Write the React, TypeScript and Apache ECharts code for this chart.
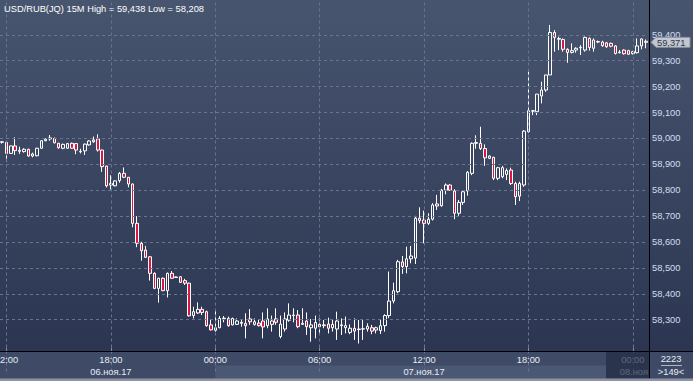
import React, { useEffect, useRef } from "react";
import * as echarts from "echarts";

// index of first candle relative to 00:00 on 07.11 (15-minute bars)
const START_INDEX = -49;
const SYMBOL = "USD/RUB(JQ) 15M";
const TOTAL_BARS = "2223";

const opens = [
  58985, 58985, 58942, 58971, 58950, 58949, 58958, 58932, 58933, 58962,
  58991, 59002, 59000, 58981, 58962, 58962, 58981, 58980, 58950, 58952,
  58975, 58994, 58998, 58955, 58893, 58820, 58817, 58837, 58865, 58850,
  58824, 58672, 58595, 58569, 58543, 58479, 58421, 58460, 58412, 58479,
  58463, 58466, 58451, 58441, 58316, 58326, 58340, 58331, 58280,
  58259, 58269, 58304, 58305, 58280, 58282, 58290, 58286, 58303, 58282,
  58287, 58295, 58277, 58282, 58303, 58235, 58264, 58298, 58318, 58318,
  58286, 58295, 58269, 58267, 58282, 58280, 58283, 58269, 58264, 58280,
  58269, 58251, 58267, 58264, 58264, 58264, 58269, 58260, 58258, 58277,
  58316, 58372, 58408, 58523, 58505, 58535, 58538, 58692, 58685, 58672,
  58688, 58747, 58740, 58800, 58820, 58797, 58711, 58753, 58797, 58865,
  58981, 58981, 58961, 58923, 58927, 58846, 58852, 58861, 58878, 58826,
  58777, 58820, 59026, 59105, 59103, 59164, 59187, 59245, 59409, 59386,
  59382, 59344, 59332, 59341, 59350, 59341, 59386, 59348, 59372, 59372,
  59369, 59367, 59357, 59333, 59341, 59339, 59327, 59331, 59357, 59375,
];
const closes = [
  58987, 58942, 58971, 58953, 58954, 58958, 58932, 58940, 58962, 58991,
  58997, 58998, 58983, 58964, 58977, 58980, 58962, 58955, 58948, 58978,
  58990, 58987, 58955, 58891, 58817, 58826, 58836, 58865, 58850, 58824,
  58672, 58595, 58566, 58541, 58479, 58421, 58460, 58412, 58479, 58460,
  58465, 58444, 58441, 58315, 58331, 58340, 58328, 58277, 58261,
  58269, 58305, 58306, 58277, 58305, 58295, 58286, 58277, 58292, 58292,
  58277, 58272, 58303, 58295, 58290, 58283, 58303, 58318, 58316, 58273,
  58282, 58273, 58280, 58289, 58273, 58277, 58267, 58282, 58295, 58277,
  58277, 58267, 58256, 58262, 58265, 58274, 58256, 58269, 58277, 58316,
  58372, 58412, 58524, 58505, 58535, 58546, 58692, 58683, 58672, 58688,
  58743, 58739, 58800, 58820, 58800, 58711, 58753, 58794, 58869, 58981,
  58984, 58961, 58925, 58932, 58846, 58887, 58887, 58876, 58826, 58775,
  58826, 59028, 59107, 59107, 59171, 59187, 59245, 59409, 59390, 59383,
  59344, 59332, 59339, 59348, 59352, 59390, 59351, 59380, 59374, 59358,
  59354, 59356, 59328, 59331, 59327, 59325, 59335, 59357, 59384, 59371,
];
const lows = [
  58980, 58910, 58940, 58936, 58940, 58945, 58930, 58927, 58931, 58960,
  58989, 58991, 58981, 58960, 58958, 58960, 58960, 58939, 58942, 58936,
  58972, 58983, 58949, 58871, 58811, 58803, 58815, 58829, 58848, 58811,
  58657, 58580, 58528, 58538, 58451, 58418, 58366, 58410, 58386, 58458,
  58461, 58442, 58434, 58312, 58305, 58322, 58318, 58273, 58258,
  58254, 58267, 58290, 58273, 58278, 58280, 58273, 58228, 58280, 58277,
  58274, 58228, 58267, 58254, 58280, 58228, 58254, 58292, 58290, 58267,
  58280, 58241, 58215, 58228, 58247, 58267, 58247, 58254, 58222, 58241,
  58247, 58244, 58222, 58208, 58222, 58254, 58244, 58247, 58245, 58254,
  58306, 58363, 58402, 58477, 58479, 58518, 58515, 58672, 58595, 58666,
  58683, 58724, 58736, 58784, 58797, 58688, 58701, 58743, 58779, 58858,
  58960, 58955, 58894, 58920, 58839, 58839, 58846, 58839, 58820, 58743,
  58758, 58813, 59022, 59090, 59090, 59135, 59180, 59245, 59335, 59341,
  59335, 59292, 59328, 59331, 59322, 59335, 59339, 59335, 59368, 59354,
  59350, 59352, 59324, 59328, 59324, 59322, 59324, 59328, 59344, 59348,
];
const highs = [
  58990, 58988, 58972, 59004, 58968, 58962, 58960, 58945, 58964, 58993,
  59000, 59013, 59003, 58983, 58980, 58982, 58984, 58982, 58960, 58980,
  58993, 59007, 59016, 58957, 58895, 58858, 58838, 58870, 58888, 58851,
  58826, 58700, 58601, 58585, 58545, 58483, 58462, 58463, 58482, 58488,
  58467, 58468, 58458, 58443, 58350, 58367, 58350, 58335, 58299,
  58337, 58314, 58314, 58312, 58308, 58305, 58301, 58325, 58341, 58305,
  58301, 58328, 58344, 58316, 58344, 58316, 58328, 58363, 58344, 58337,
  58344, 58328, 58303, 58316, 58305, 58299, 58308, 58299, 58331, 58305,
  58312, 58282, 58305, 58299, 58299, 58286, 58280, 58273, 58300, 58321,
  58486, 58443, 58531, 58546, 58582, 58585, 58701, 58734, 58721, 58711,
  58750, 58782, 58805, 58826, 58823, 58804, 58762, 58800, 58874, 58985,
  59012, 59045, 58977, 58935, 58929, 58890, 58894, 58884, 58887, 58833,
  58833, 59032, 59258, 59110, 59171, 59219, 59245, 59438, 59418, 59393,
  59386, 59348, 59367, 59352, 59360, 59393, 59390, 59386, 59378, 59377,
  59372, 59370, 59360, 59341, 59344, 59342, 59338, 59386, 59386, 59382,
];
const yTicks = [58300, 58400, 58500, 58600, 58700, 58800, 58900, 59000, 59100, 59200, 59300, 59400];
const dayNames = ["06.ноя.17", "07.ноя.17", "08.ноя"];

const pad = (n: number) => (n < 10 ? "0" + n : "" + n);
const categories = opens.map((_, k) => {
  const m = (START_INDEX + k) * 15;
  const day = 7 + Math.floor(m / 1440);
  const mm = ((m % 1440) + 1440) % 1440;
  return `${pad(day)}.11 ${pad(Math.floor(mm / 60))}:${pad(mm % 60)}`;
});
const isTick = (k: number) => (((START_INDEX + k) % 24) + 24) % 24 === 0;
const fmt = (v: number) => (v / 1000).toFixed(3).replace(".", ",");
const FONT = '"Liberation Sans", Arial, sans-serif';
const FS = 9.3;

export default function App() {
  const ref = useRef<HTMLDivElement>(null);
  useEffect(() => {
    if (!ref.current) return;
    const chart = echarts.init(ref.current, undefined, { renderer: "svg" });
    const data = opens.map((o, k) => [o, closes[k], lows[k], highs[k]]);
    const tickIdx = categories.map((_, k) => k).filter(isTick);
    const gridColor = "#687591";
    chart.setOption({
      animation: false,
      backgroundColor: {
        type: "linear", x: 0, y: 0, x2: 0, y2: 1,
        colorStops: [
          { offset: 0, color: "#48556f" },
          { offset: 1, color: "#29334f" },
        ],
      },
      grid: { left: 0, top: 0, width: 648, height: 371.5, containLabel: false, outerBoundsMode: "none" },
      xAxis: {
        type: "category",
        data: categories,
        boundaryGap: true,
        offset: -20,
        z: 10,
        axisLine: { show: true, lineStyle: { color: "#000", width: 1 } },
        axisTick: {
          show: true, inside: true, length: 4, alignWithLabel: true,
          interval: (k: number) => isTick(k),
          lineStyle: { color: "#7f8ba3" },
        },
        axisLabel: {
          interval: (k: number) => isTick(k),
          formatter: (v: string) => v.slice(-5),
          color: "#e8edf6", fontSize: FS, margin: 4, fontFamily: FONT,
        },
        splitLine: { show: false },
      },
      yAxis: {
        type: "value",
        position: "right",
        min: 58100, max: 59534.4, interval: 100,
        axisLine: { show: false },
        axisTick: { show: false },
        splitLine: { show: false },
        axisLabel: {
          formatter: (v: number) => (yTicks.indexOf(v) < 0 ? "" : fmt(v)),
          color: "#d2ddf0", fontSize: FS, margin: 4, align: "left", fontFamily: FONT,
        },
      },
      series: [
        {
          type: "candlestick",
          data,
          barWidth: 3,
          itemStyle: {
            color: "rgba(0,0,0,0)", color0: "#dc1642",
            borderColor: "#ffffff", borderColor0: "#ffffff", borderWidth: 1,
          },
          markLine: {
            silent: true, symbol: "none", animation: false,
            label: { show: false },
            lineStyle: { color: gridColor, type: [3, 3], width: 1, opacity: 1 },
            emphasis: { disabled: true },
            data: [
              ...yTicks.map((v) => ({ yAxis: v })),
              ...tickIdx.map((k) => ({ xAxis: k })),
            ],
          },
        },
      ],
    });

    const xPix = (k: number) => chart.convertToPixel({ xAxisIndex: 0 }, k) as number;
    const lastClose = closes[closes.length - 1];
    const yTag = chart.convertToPixel({ yAxisIndex: 0 }, lastClose) as number;
    const hi = Math.max(...highs);
    const lo = Math.min(...lows);
    const x07 = xPix(-START_INDEX);
    const noon06 = xPix(-START_INDEX - 24);
    const noon07 = xPix(-START_INDEX + 48);
    const x08 = xPix(-START_INDEX + 96);
    const font = `${FS}px ${FONT}`;

    chart.setOption({
      graphic: {
        elements: [
          { type: "rect", z: 3, shape: { x: 0, y: 352, width: 693, height: 27 }, style: { fill: "#3e4a66" } },
          { type: "rect", z: 3, shape: { x: x07, y: 365.5, width: 606 - x07, height: 13 }, style: { fill: "#4b5874" } },
          { type: "line", z: 11, shape: { x1: 0, y1: 351.5, x2: 693, y2: 351.5 }, style: { stroke: "#000", lineWidth: 1 } },
          { type: "text", z: 11, x: noon06, y: 371.5, style: { text: dayNames[0], fill: "#e8edf6", font, align: "center", verticalAlign: "middle" } },
          { type: "text", z: 11, x: noon07, y: 371.5, style: { text: dayNames[1], fill: "#e8edf6", font, align: "center", verticalAlign: "middle" } },
          { type: "text", z: 11, x: x08 - 13, y: 371.5, style: { text: dayNames[2], fill: "#e8edf6", font, align: "left", verticalAlign: "middle" } },
          { type: "rect", z: 12, shape: { x: 606, y: 352, width: 43, height: 26.5 }, style: { fill: "rgba(36,45,68,0.72)" } },
          { type: "line", z: 12, shape: { x1: 606.5, y1: 352, x2: 606.5, y2: 378.5 }, style: { stroke: "#2a3450", lineWidth: 1 } },
          { type: "rect", z: 13, shape: { x: 649, y: 352, width: 44, height: 26.5 }, style: { fill: "#3d4965" } },
          { type: "line", z: 13, shape: { x1: 649.5, y1: 0, x2: 649.5, y2: 378.5 }, style: { stroke: "#000", lineWidth: 1 } },
          { type: "text", z: 14, x: 671, y: 358.5, style: { text: TOTAL_BARS, fill: "#e8edf6", font, align: "center", verticalAlign: "middle" } },
          { type: "line", z: 14, shape: { x1: 661, y1: 365.5, x2: 682, y2: 365.5 }, style: { stroke: "#aeb6c6", lineWidth: 1 } },
          { type: "text", z: 14, x: 671, y: 371.5, style: { text: `>${opens.length}<`, fill: "#e8edf6", font, align: "center", verticalAlign: "middle" } },
          { type: "rect", z: 16, shape: { x: 0, y: 378.5, width: 693, height: 2.5 }, style: { fill: "#8d95a5" } },
          {
            type: "polygon", z: 20,
            shape: { points: [[651, yTag], [656, yTag - 5], [690, yTag - 5], [690, yTag + 5], [656, yTag + 5]] },
            style: { fill: "#c3c7cf", stroke: "#8a909c", lineWidth: 1 },
          },
          { type: "text", z: 21, x: 657, y: yTag + 0.5, style: { text: fmt(lastClose), fill: "#2c3550", font, align: "left", verticalAlign: "middle" } },
          {
            type: "text", z: 21, x: 4, y: 9,
            style: { text: `${SYMBOL} High = ${fmt(hi)} Low = ${fmt(lo)}`, fill: "#ffffff", font, align: "left", verticalAlign: "middle" },
          },
        ],
      },
    });
    return () => chart.dispose();
  }, []);
  return <div ref={ref} style={{ position: "fixed", left: 0, top: 0, width: 693, height: 381 }} />;
}
